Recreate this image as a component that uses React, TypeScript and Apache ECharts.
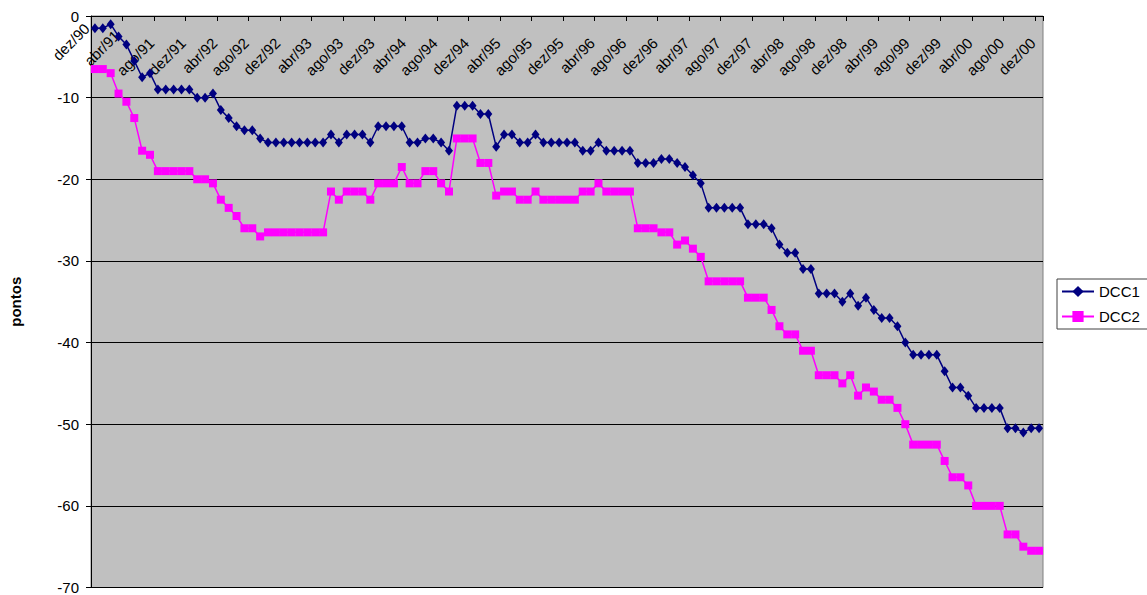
import React, { useEffect, useRef } from "react";
import * as echarts from "echarts";

const monthNames = ["jan", "fev", "mar", "abr", "mai", "jun", "jul", "ago", "set", "out", "nov", "dez"];
const firstYear = 1990;
const firstMonth = 11; // dez
const monthCount = 121;

const categories: string[] = [];
for (let k = 0; k < monthCount; k++) {
  const m = (firstMonth + k) % 12;
  const y = firstYear + Math.floor((firstMonth + k) / 12);
  categories.push(`${monthNames[m]}/${String(y % 100).padStart(2, "0")}`);
}

const dcc1 = [
  -1.5, -1.5, -1, -2.5, -3.5, -5.5, -7.5, -7, -9, -9,
  -9, -9, -9, -10, -10, -9.5, -11.5, -12.5, -13.5, -14,
  -14, -15, -15.5, -15.5, -15.5, -15.5, -15.5, -15.5, -15.5, -15.5,
  -14.5, -15.5, -14.5, -14.5, -14.5, -15.5, -13.5, -13.5, -13.5, -13.5,
  -15.5, -15.5, -15, -15, -15.5, -16.5, -11, -11, -11, -12,
  -12, -16, -14.5, -14.5, -15.5, -15.5, -14.5, -15.5, -15.5, -15.5,
  -15.5, -15.5, -16.5, -16.5, -15.5, -16.5, -16.5, -16.5, -16.5, -18,
  -18, -18, -17.5, -17.5, -18, -18.5, -19.5, -20.5, -23.5, -23.5,
  -23.5, -23.5, -23.5, -25.5, -25.5, -25.5, -26, -28, -29, -29,
  -31, -31, -34, -34, -34, -35, -34, -35.5, -34.5, -36,
  -37, -37, -38, -40, -41.5, -41.5, -41.5, -41.5, -43.5, -45.5,
  -45.5, -46.5, -48, -48, -48, -48, -50.5, -50.5, -51, -50.5,
  -50.5,
];

const dcc2 = [
  -6.5, -6.5, -7, -9.5, -10.5, -12.5, -16.5, -17, -19, -19,
  -19, -19, -19, -20, -20, -20.5, -22.5, -23.5, -24.5, -26,
  -26, -27, -26.5, -26.5, -26.5, -26.5, -26.5, -26.5, -26.5, -26.5,
  -21.5, -22.5, -21.5, -21.5, -21.5, -22.5, -20.5, -20.5, -20.5, -18.5,
  -20.5, -20.5, -19, -19, -20.5, -21.5, -15, -15, -15, -18,
  -18, -22, -21.5, -21.5, -22.5, -22.5, -21.5, -22.5, -22.5, -22.5,
  -22.5, -22.5, -21.5, -21.5, -20.5, -21.5, -21.5, -21.5, -21.5, -26,
  -26, -26, -26.5, -26.5, -28, -27.5, -28.5, -29.5, -32.5, -32.5,
  -32.5, -32.5, -32.5, -34.5, -34.5, -34.5, -36, -38, -39, -39,
  -41, -41, -44, -44, -44, -45, -44, -46.5, -45.5, -46,
  -47, -47, -48, -50, -52.5, -52.5, -52.5, -52.5, -54.5, -56.5,
  -56.5, -57.5, -60, -60, -60, -60, -63.5, -63.5, -65, -65.5,
  -65.5,
];

const seriesNames = ["DCC1", "DCC2"];
const yTicks = { min: -70, max: 0, interval: 10 };

const FONT = "'Liberation Sans', Arial, sans-serif";

export default function App() {
  const ref = useRef<HTMLDivElement>(null);

  useEffect(() => {
    if (!ref.current) return;
    const chart = echarts.init(ref.current, undefined, { renderer: "svg" });
    // the first two labels sit a little higher in the original
    const labelShift: Record<number, { padding: number[]; lineHeight: number }> = {
      0: { padding: [0, 0, 0, 0], lineHeight: 23 },
      4: { padding: [0, 6, 0, 0], lineHeight: 15 },
    };
    const xData = categories.map((c, i) =>
      labelShift[i]
        ? {
            value: c,
            textStyle: {
              padding: labelShift[i].padding,
              lineHeight: labelShift[i].lineHeight,
              verticalAlign: "bottom",
            },
          }
        : c
    );
    chart.setOption({
      animation: false,
      backgroundColor: "#ffffff",
      textStyle: { fontFamily: FONT, color: "#000" },
      grid: {
        left: 85,
        top: 16,
        width: 958,
        height: 574,
        show: true,
        backgroundColor: "#c0c0c0",
        borderColor: "#808080",
        borderWidth: 1,
      },
      legend: {
        orient: "vertical",
        left: 1057,
        top: 279,
        padding: [5, 8, 5, 4],
        itemWidth: 32,
        itemHeight: 14,
        itemGap: 10,
        borderColor: "#404040",
        borderWidth: 1,
        backgroundColor: "#ffffff",
        textStyle: { fontFamily: FONT, fontSize: 15, color: "#000" },
        data: seriesNames,
      },
      xAxis: {
        type: "category",
        position: "top",
        data: xData,
        boundaryGap: true,
        axisLine: { show: true, onZero: false, lineStyle: { color: "#000", width: 1 } },
        axisTick: { show: true, inside: true, length: 5, interval: 3, lineStyle: { color: "#000" } },
        axisLabel: {
          inside: true,
          rotate: -45,
          interval: 3,
          margin: 18,
          padding: [0, 9, 0, 0],
          fontSize: 15,
          fontFamily: FONT,
          color: "#000",
        },
        splitLine: { show: false },
      },
      yAxis: {
        type: "value",
        min: yTicks.min,
        max: yTicks.max,
        interval: yTicks.interval,
        name: "pontos",
        nameLocation: "middle",
        nameGap: 68,
        nameTextStyle: { fontFamily: FONT, fontSize: 15, fontWeight: "bold", color: "#000" },
        axisLine: { show: true, lineStyle: { color: "#000", width: 1 } },
        axisTick: { show: true, inside: false, length: 5, lineStyle: { color: "#000" } },
        axisLabel: { margin: 12, fontSize: 15, fontFamily: FONT, color: "#000" },
        splitLine: { show: true, lineStyle: { color: "#000", width: 1 } },
      },
      series: [
        {
          name: seriesNames[0],
          type: "line",
          data: dcc1,
          symbol: "diamond",
          symbolSize: [8, 10],
          showAllSymbol: true,
          color: "#000080",
          lineStyle: { color: "#000080", width: 1.5 },
          itemStyle: { color: "#000080" },
          emphasis: { disabled: true },
          z: 3,
        },
        {
          name: seriesNames[1],
          type: "line",
          data: dcc2,
          symbol: "rect",
          symbolSize: 8,
          showAllSymbol: true,
          color: "#ff00ff",
          lineStyle: { color: "#ff00ff", width: 1.5 },
          itemStyle: { color: "#ff00ff" },
          emphasis: { disabled: true },
          z: 2,
        },
      ],
    });
    return () => chart.dispose();
  }, []);

  return (
    <div
      ref={ref}
      style={{ position: "fixed", left: 0, top: 0, width: 1147, height: 595 }}
    />
  );
}
